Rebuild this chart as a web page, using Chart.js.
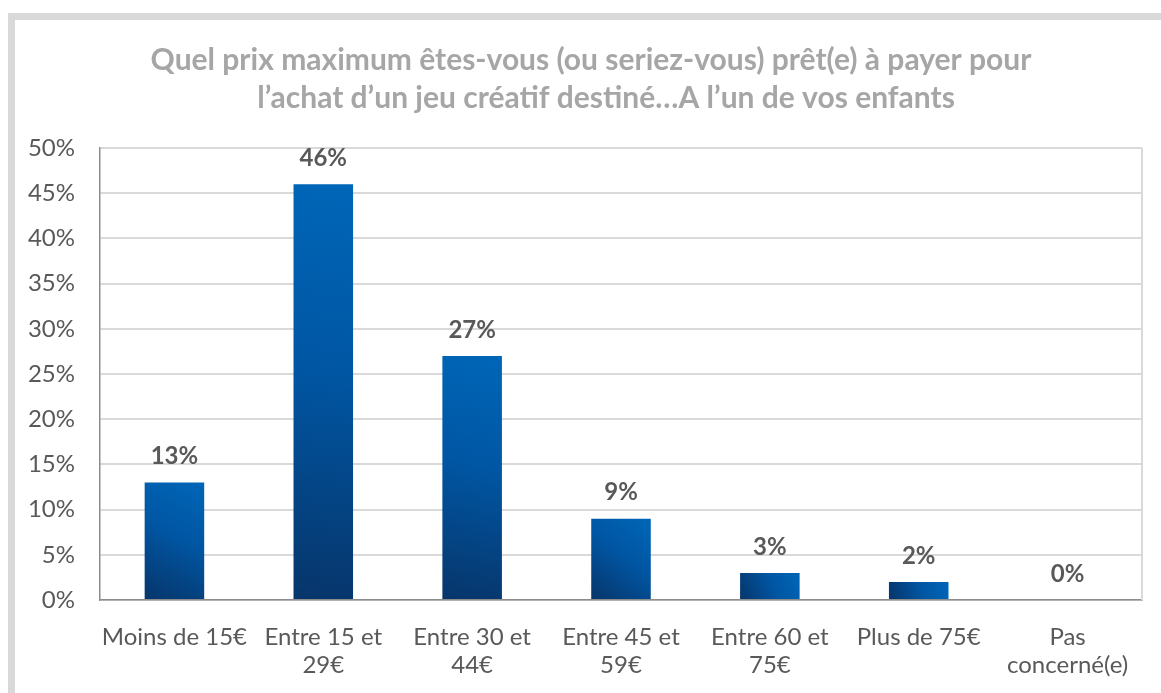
<!DOCTYPE html>
<html>
<head>
<meta charset="utf-8">
<script src="https://cdn.jsdelivr.net/npm/chart.js@4"></script>
<style>
  html, body { margin: 0; padding: 0; background: #fff; }
  #wrap { position: relative; width: 1161px; height: 693px; overflow: hidden; }
  #frame { position: absolute; left: 8px; top: 13px; width: 1200px; height: 700px;
           border-left: 7px solid #d9d9d9; border-top: 7px solid #d9d9d9; }
  #chartContainer { position: absolute; left: 0; top: 0; }
</style>
</head>
<body>
<div id="wrap">
  <div id="frame"></div>
  <canvas id="chartContainer" width="1161" height="693"></canvas>
</div>
<script>
"use strict";

// 1: data
let categories = [
  "Moins de 15€",
  ["Entre 15 et", "29€"],
  ["Entre 30 et", "44€"],
  ["Entre 45 et", "59€"],
  ["Entre 60 et", "75€"],
  "Plus de 75€",
  ["Pas", "concerné(e)"]
];
let percents = [13, 46, 27, 9, 3, 2, 0];
let yTicks = [0, 5, 10, 15, 20, 25, 30, 35, 40, 45, 50];
let titleLines = [
  "Quel prix maximum êtes-vous (ou seriez-vous) prêt(e) à payer pour",
  "l’achat d’un jeu créatif destiné…A l’un de vos enfants"
];

// gradient per bar: dark bottom-left -> bright top-right
function barGradient(context) {
  let chart = context.chart;
  let x = chart.scales.x, y = chart.scales.y;
  if (!chart.chartArea || context.dataIndex === undefined) return '#0060b0';
  let v = percents[context.dataIndex];
  let cx = x.getPixelForValue(context.dataIndex);
  let half = (x.width / categories.length) * 0.4 / 2;
  let top = y.getPixelForValue(v), base = y.getPixelForValue(0);
  let g = chart.ctx.createLinearGradient(cx - half, base, cx + half, top);
  g.addColorStop(0, '#07356a');
  g.addColorStop(0.55, '#0056a3');
  g.addColorStop(1, '#0066b8');
  return g;
}

// title drawn per line
let titlePlugin = {
  id: 'titleLines',
  afterDraw(chart) {
    let ctx = chart.ctx;
    ctx.save();
    ctx.font = 'bold 30px Lato';
    ctx.fillStyle = '#a6a6a6';
    ctx.textAlign = 'center';
    ctx.textBaseline = 'middle';
    ctx.fillText(titleLines[0], 591, 60);
    ctx.fillText(titleLines[1], 606, 98);
    ctx.restore();
  }
};

// value labels above bars, and right border of plot
let labelPlugin = {
  id: 'valueLabels',
  beforeDatasetsDraw(chart) {
    let a = chart.chartArea, ctx = chart.ctx;
    ctx.save();
    ctx.strokeStyle = '#d9d9d9';
    ctx.lineWidth = 2;
    ctx.beginPath();
    ctx.moveTo(a.right, a.top);
    ctx.lineTo(a.right, a.bottom);
    ctx.stroke();
    ctx.restore();
  },
  afterDatasetsDraw(chart) {
    let ctx = chart.ctx;
    let meta = chart.getDatasetMeta(0);
    ctx.save();
    ctx.font = 'bold 24px Lato';
    ctx.fillStyle = '#595959';
    ctx.textAlign = 'center';
    ctx.textBaseline = 'middle';
    meta.data.forEach(function (bar, i) {
      ctx.fillText(percents[i] + '%', bar.x, bar.y - 26);
    });
    ctx.restore();
  }
};

// 3: create and append the chart
function appendChart() {
  let chartContainer = document.getElementById('chartContainer');
  let chart = new Chart(chartContainer, {
    type: 'bar',
    data: {
      labels: categories,
      datasets: [{
        data: percents,
        backgroundColor: barGradient,
        borderWidth: 0,
        barPercentage: 0.4,
        categoryPercentage: 1
      }]
    },
    options: {
      responsive: false,
      animation: false,
      layout: { padding: { top: 148, right: 19, left: 0, bottom: 0 } },
      plugins: {
        legend: { display: false },
        tooltip: { enabled: false },
        title: { display: false }
      },
      scales: {
        x: {
          grid: { display: false },
          border: { color: '#8c8c8c', width: 1.5 },
          ticks: {
            color: '#595959',
            font: { family: 'Lato', size: 24, lineHeight: 1.17 },
            padding: 15,
            maxRotation: 0,
            autoSkip: false
          },
          afterFit(scale) { scale.height = 93; }
        },
        y: {
          min: 0,
          max: 50,
          afterBuildTicks(scale) { scale.ticks = yTicks.map(v => ({ value: v })); },
          grid: { color: '#d9d9d9', lineWidth: 2, drawTicks: false },
          border: { color: '#8c8c8c', width: 1.5 },
          ticks: {
            color: '#595959',
            font: { family: 'Lato', size: 24 },
            padding: 25,
            callback: v => v + '%'
          },
          afterFit(scale) { scale.width = 100; }
        }
      }
    },
    plugins: [titlePlugin, labelPlugin]
  });
}

appendChart();
</script>
</body>
</html>
